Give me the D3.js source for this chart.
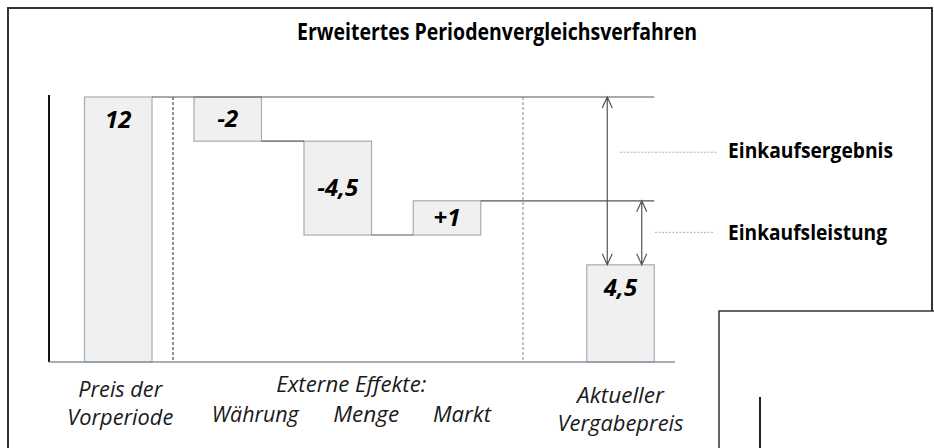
<!DOCTYPE html>
<html>
<head>
<meta charset="utf-8">
<script src="https://cdn.jsdelivr.net/npm/d3@7"></script>
<style>
  body { margin: 0; background: #fff; }
  text { font-family: "Open Sans", "Noto Sans", sans-serif; }
</style>
</head>
<body>
<svg id="chart" width="934" height="448"></svg>
<script>
// bars of the waterfall (heights, labels as printed)
let categories = ["Preis der Vorperiode", "Währung", "Menge", "Markt", "Aktueller Vergabepreis"];
let barValues = [12, -2, -4.25, 1.55, 4.4];
let barKinds = ["total", "delta", "delta", "delta", "total"];
let valueLabels = ["12", "-2", "-4,5", "+1", "4,5"];

// lower labels
let groupLabels = [
  { lines: ["Preis der", "Vorperiode"], cat: "Preis der Vorperiode", dx: 2, y: [397, 425], w: [84, 106] },
  { lines: ["Externe Effekte:"], cat: "Menge", dx: 13.5, y: [392], w: [150] },
  { lines: ["Währung"], cat: "Währung", dx: 27.5, y: [422], w: [87] },
  { lines: ["Menge"], cat: "Menge", dx: 28.5, y: [422], w: [66] },
  { lines: ["Markt"], cat: "Markt", dx: 15, y: [422], w: [58] },
  { lines: ["Aktueller", "Vergabepreis"], cat: "Aktueller Vergabepreis", dx: 0, y: [403, 431], w: [87, 126] }
];

let annotations = ["Einkaufsergebnis", "Einkaufsleistung"];

let svg = d3.select("#chart");
let width = +svg.attr("width");
let height = +svg.attr("height");

let x = d3.scaleOrdinal().domain(categories).range([118.25, 227.75, 337.75, 447, 620.5]);
let barW = 67.5;
let y = d3.scaleLinear().domain([0, 12]).range([362, 97]);

// running totals -> bar extents
let run = 0;
let bars = categories.map(function (c, i) {
  let v = barValues[i];
  let b;
  if (barKinds[i] == "total") {
    b = { cat: c, y0: 0, y1: v, kind: "total", label: valueLabels[i] };
    run = v;
  } else {
    b = { cat: c, y0: run, y1: run + v, kind: "delta", label: valueLabels[i] };
    run = run + v;
  }
  return b;
});

// outer frame + title
svg.append("rect")
  .attr("x", 8).attr("y", 8)
  .attr("width", 924).attr("height", 480)
  .attr("fill", "none").attr("stroke", "#333").attr("stroke-width", 2);

svg.append("text")
  .attr("x", 497).attr("y", 40)
  .attr("text-anchor", "middle")
  .attr("font-size", 23).attr("font-weight", "bold")
  .attr("fill", "#000")
  .attr("textLength", 400).attr("lengthAdjust", "spacingAndGlyphs")
  .text("Erweitertes Periodenvergleichsverfahren");

let plot = svg.append("g");

// dashed separators
let seps = [
  { x: (x(categories[0]) + barW / 2 + x(categories[1]) - barW / 2) / 2, color: "#222" },
  { x: 523, color: "#888" }
];
plot.selectAll(".sep")
  .data(seps)
  .enter()
  .append("line")
  .attr("class", "sep")
  .attr("x1", (d) => d.x).attr("x2", (d) => d.x)
  .attr("y1", y(12)).attr("y2", y(0))
  .attr("stroke", (d) => d.color)
  .attr("stroke-width", 1)
  .attr("stroke-dasharray", "3,2");

// bars
plot.selectAll(".bar")
  .data(bars)
  .enter()
  .append("rect")
  .attr("class", "bar")
  .attr("x", (d) => x(d.cat) - barW / 2)
  .attr("width", barW)
  .attr("y", (d) => y(Math.max(d.y0, d.y1)))
  .attr("height", (d) => Math.abs(y(d.y0) - y(d.y1)))
  .attr("fill", "#f0f0f0")
  .attr("stroke", "#a3adb5")
  .attr("stroke-width", 1.2);

// connectors between bars
let lastRight = x(categories[4]) + barW / 2;
let conns = [];
for (let i = 0; i < bars.length - 1; i++) {
  let x1 = x(bars[i].cat) + barW / 2;
  let x2 = x(bars[i + 1].cat) - barW / 2;
  // top reference line and final Einkaufsleistung level run to the last bar
  if (i == 0 || i == 3) x2 = lastRight;
  conns.push({ x1: x1, x2: x2, v: bars[i].y1 });
}
plot.selectAll(".conn")
  .data(conns)
  .enter()
  .append("line")
  .attr("class", "conn")
  .attr("x1", (d) => d.x1).attr("x2", (d) => d.x2)
  .attr("y1", (d) => y(d.v)).attr("y2", (d) => y(d.v))
  .attr("stroke", "#555").attr("stroke-width", 1.2);

// axes lines
plot.append("line")
  .attr("x1", 49).attr("x2", 49)
  .attr("y1", y(12) - 2).attr("y2", y(0))
  .attr("stroke", "#111").attr("stroke-width", 2);
plot.append("line")
  .attr("x1", 49).attr("x2", 675)
  .attr("y1", y(0)).attr("y2", y(0))
  .attr("stroke", "#8795a1").attr("stroke-width", 1.5);

// value labels
plot.selectAll(".val")
  .data(bars)
  .enter()
  .append("text")
  .attr("class", "val")
  .attr("x", (d) => x(d.cat))
  .attr("y", function (d) {
    let top = y(Math.max(d.y0, d.y1));
    let bot = y(Math.min(d.y0, d.y1));
    if (d.kind == "total") return top + 31;
    return (top + bot) / 2 + 8;
  })
  .attr("text-anchor", "middle")
  .attr("font-size", 24)
  .attr("font-weight", "bold")
  .attr("font-style", "italic")
  .attr("fill", "#000")
  .text((d) => d.label);

// double arrows
let endBar = bars[4];
let arrows = [
  { x: x(endBar.cat) - barW / 2 + 20.5, from: bars[0].y1, to: endBar.y1 },
  { x: x(endBar.cat) + barW / 2 - 12.5, from: bars[3].y1, to: endBar.y1 }
];
plot.selectAll(".arrow")
  .data(arrows)
  .enter()
  .append("path")
  .attr("class", "arrow")
  .attr("d", function (d) {
    let a = y(d.from), b = y(d.to);
    return "M" + d.x + "," + a + "L" + d.x + "," + b +
      "M" + (d.x - 5) + "," + (a + 11) + "L" + d.x + "," + a + "L" + (d.x + 5) + "," + (a + 11) +
      "M" + (d.x - 5) + "," + (b - 11) + "L" + d.x + "," + b + "L" + (d.x + 5) + "," + (b - 11);
  })
  .attr("fill", "none")
  .attr("stroke", "#555")
  .attr("stroke-width", 1.2);

// annotation leaders + text
let ann = [
  { text: annotations[0], lx1: 620, lx2: 717, ly: y(9.5), ty: 158, w: 165 },
  { text: annotations[1], lx1: 655, lx2: 713, ly: y(5.87), ty: 240, w: 159 }
];
plot.selectAll(".lead")
  .data(ann)
  .enter()
  .append("line")
  .attr("class", "lead")
  .attr("x1", (d) => d.lx1).attr("x2", (d) => d.lx2)
  .attr("y1", (d) => d.ly).attr("y2", (d) => d.ly)
  .attr("stroke", "#9fb4c0").attr("stroke-width", 1)
  .attr("stroke-dasharray", "2,1.5");
plot.selectAll(".ann")
  .data(ann)
  .enter()
  .append("text")
  .attr("class", "ann")
  .attr("x", 728)
  .attr("y", (d) => d.ty)
  .attr("font-size", 20.5)
  .attr("font-weight", "bold")
  .attr("fill", "#000")
  .attr("textLength", (d) => d.w).attr("lengthAdjust", "spacingAndGlyphs")
  .text((d) => d.text);

// category labels
groupLabels.forEach(function (g) {
  g.lines.forEach(function (line, k) {
    svg.append("text")
      .attr("x", x(g.cat) + g.dx)
      .attr("y", g.y[k])
      .attr("text-anchor", "middle")
      .attr("font-size", 22.5)
      .attr("font-style", "italic")
      .attr("fill", "#1a1a1a")
      .attr("textLength", g.w[k]).attr("lengthAdjust", "spacingAndGlyphs")
      .text(line);
  });
});

// overlapping box in the lower right corner
svg.append("rect")
  .attr("x", 719).attr("y", 311)
  .attr("width", 300).attr("height", 200)
  .attr("fill", "#fff").attr("stroke", "#333").attr("stroke-width", 1.5);
svg.append("line")
  .attr("x1", 760).attr("x2", 760)
  .attr("y1", 397).attr("y2", height)
  .attr("stroke", "#222").attr("stroke-width", 2);
</script>
</body>
</html>
